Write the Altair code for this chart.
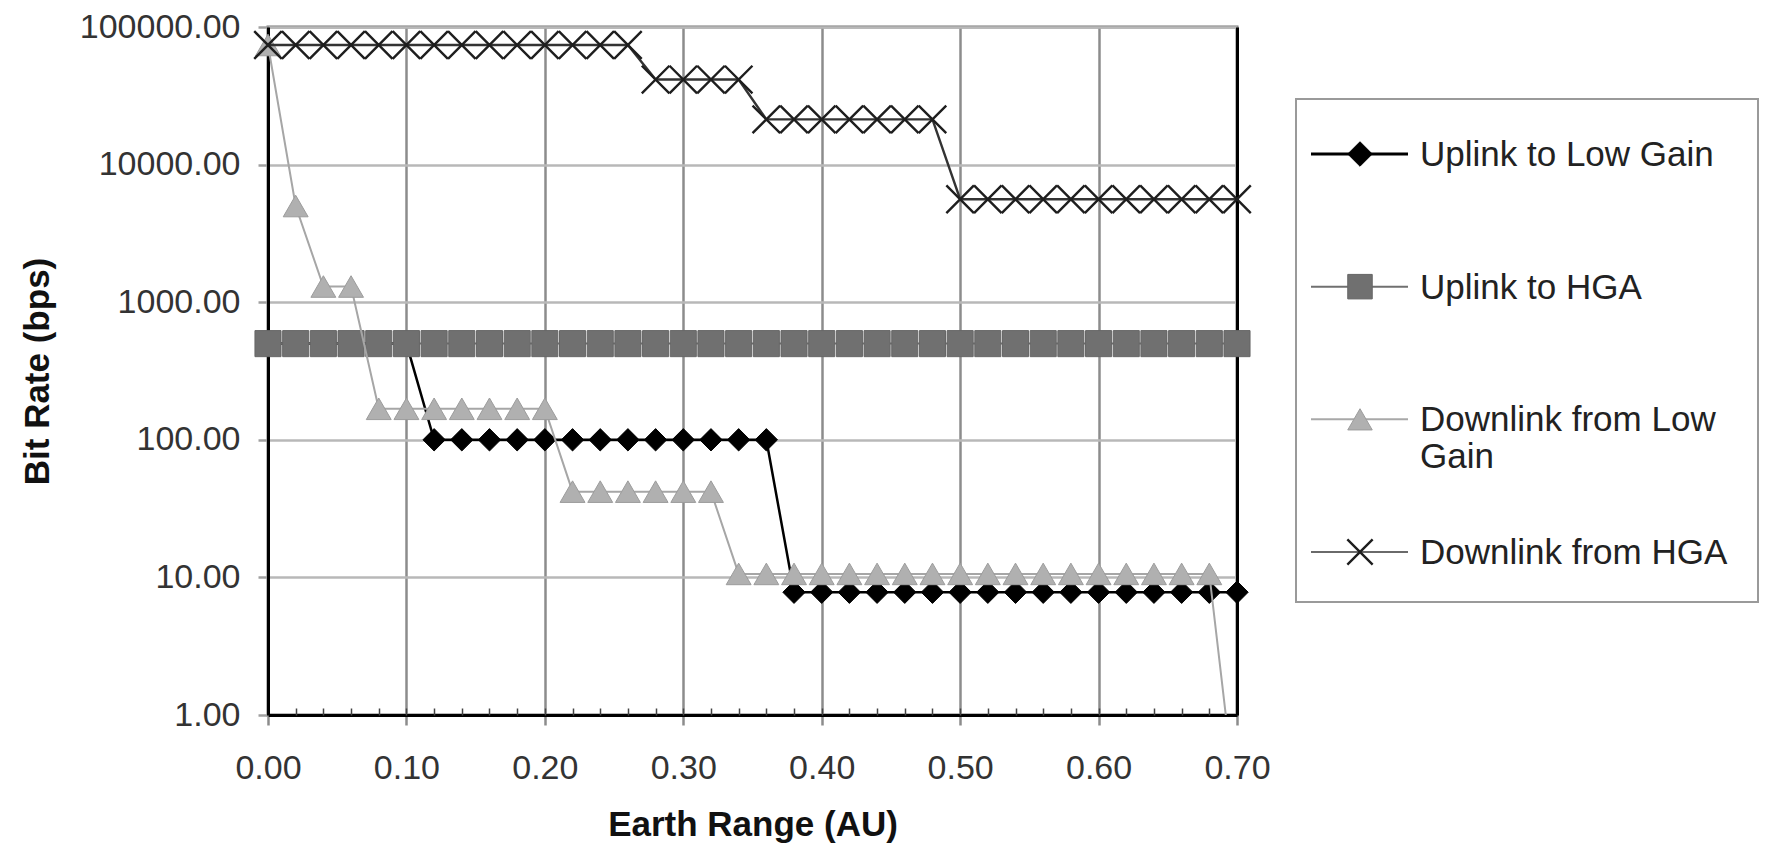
import altair as alt
import pandas as pd

# ---------------- data ----------------
x_range = [0.00, 0.02, 0.04, 0.06, 0.08, 0.10, 0.12, 0.14, 0.16, 0.18,
           0.20, 0.22, 0.24, 0.26, 0.28, 0.30, 0.32, 0.34, 0.36, 0.38,
           0.40, 0.42, 0.44, 0.46, 0.48, 0.50, 0.52, 0.54, 0.56, 0.58,
           0.60, 0.62, 0.64, 0.66, 0.68, 0.70]

uplink_low_gain = [500, 500, 500, 500, 500, 500,
                   100, 100, 100, 100, 100, 100, 100, 100, 100, 100, 100, 100, 100,
                   7.8, 7.8, 7.8, 7.8, 7.8, 7.8, 7.8, 7.8, 7.8, 7.8, 7.8, 7.8,
                   7.8, 7.8, 7.8, 7.8, 7.8]

uplink_hga = [500, 500, 500, 500, 500, 500, 500, 500, 500, 500, 500, 500,
              500, 500, 500, 500, 500, 500, 500, 500, 500, 500, 500, 500,
              500, 500, 500, 500, 500, 500, 500, 500, 500, 500, 500, 500]

downlink_low_gain = [74000, 5000, 1300, 1300,
                     168, 168, 168, 168, 168, 168, 168,
                     42, 42, 42, 42, 42, 42,
                     10.6, 10.6, 10.6, 10.6, 10.6, 10.6, 10.6, 10.6, 10.6,
                     10.6, 10.6, 10.6, 10.6, 10.6, 10.6, 10.6, 10.6, 10.6,
                     0.2]

downlink_hga = [74000, 74000, 74000, 74000, 74000, 74000, 74000,
                74000, 74000, 74000, 74000, 74000, 74000, 74000,
                41500, 41500, 41500, 41500,
                21300, 21300, 21300, 21300, 21300, 21300, 21300,
                5600, 5600, 5600, 5600, 5600, 5600, 5600, 5600, 5600, 5600, 5600]

series_names = ["Uplink to Low Gain", "Uplink to HGA",
                "Downlink from Low Gain", "Downlink from HGA"]
legend_labels = ["Uplink to Low Gain", "Uplink to HGA",
                 "Downlink from Low\nGain", "Downlink from HGA"]

x_tick_values = [0.0, 0.1, 0.2, 0.3, 0.4, 0.5, 0.6, 0.7]
y_tick_values = [1, 10, 100, 1000, 10000, 100000]

series_values = [uplink_low_gain, uplink_hga, downlink_low_gain, downlink_hga]
rows = []
for name, vals in zip(series_names, series_values):
    for xv, v in zip(x_range, vals):
        rows.append({"range": xv, "series": name, "rate": v})
df = pd.DataFrame(rows)

# ---------------- styles ----------------
FONT = "Liberation Sans"
W, H = 969, 688
LEG_W = 462
X_PATH = "M-1,-1L1,1M-1,1L1,-1"

STYLE = {
    "Uplink to Low Gain": dict(line="#000000", lw=2.5, shape="diamond", size=500,
                               filled=True, fill="#000000", stroke="#000000", sw=1,
                               leg_line="#000000", leg_lw=3),
    "Uplink to HGA": dict(line="#6e6e6e", lw=2, shape="square", size=680,
                          filled=True, fill="#707070", stroke="#666666", sw=1,
                          leg_line="#707070", leg_lw=2),
    "Downlink from Low Gain": dict(line="#a6a6a6", lw=2, shape="triangle-up", size=620,
                                   filled=True, fill="#b0b0b0", stroke="#9c9c9c", sw=1,
                                   leg_line="#a8a8a8", leg_lw=2),
    "Downlink from HGA": dict(line="#333333", lw=2.4, shape=X_PATH, size=760,
                              filled=False, fill="#000000", stroke="#1e1e1e", sw=2.4,
                              leg_line="#6a6a6a", leg_lw=2),
}

x_scale = alt.Scale(domain=[0, 0.7], nice=False, zero=False)
y_scale = alt.Scale(type="log", domain=[1, 100000], nice=False)

main_x_axis = alt.Axis(values=x_tick_values, format=".2f", title="Earth Range (AU)",
                       grid=True, gridColor="#8c8c8c", gridWidth=2.5,
                       domainColor="#000000", domainWidth=3,
                       ticks=True, tickColor="#8c8c8c", tickWidth=2.5, tickSize=10,
                       labelFont=FONT, labelFontSize=34, labelColor="#333333",
                       labelPadding=26, labelFlush=False, labelOverlap=False,
                       titleFont=FONT, titleFontSize=35, titleFontWeight="bold",
                       titleColor="#111111", titlePadding=22)
main_y_axis = alt.Axis(values=y_tick_values, format=".2f", title="Bit Rate (bps)",
                       grid=True, gridColor="#b8b8b8", gridWidth=2.5,
                       domainColor="#000000", domainWidth=3,
                       ticks=True, tickColor="#a0a0a0", tickWidth=2.5, tickSize=10,
                       labelFont=FONT, labelFontSize=34, labelColor="#333333",
                       labelPadding=18, labelFlush=False, labelOverlap=False,
                       titleFont=FONT, titleFontSize=35, titleFontWeight="bold",
                       titleColor="#111111", titlePadding=24)
minor_x_axis = alt.Axis(orient="top", offset=-H, values=x_range, title=None,
                        ticks=True, tickSize=7, tickColor="#444444", tickWidth=1.5,
                        labels=False, domain=False, grid=False)
right_y_axis = alt.Axis(orient="right", title=None, domain=True,
                        domainColor="#000000", domainWidth=3,
                        ticks=False, labels=False, grid=False)

layers = []
n = len(series_names)
for i, name in enumerate(series_names):
    st = STYLE[name]
    sub = alt.Chart(df).transform_filter(alt.datum.series == name)
    xa = main_x_axis if i == 0 else None
    ya = main_y_axis if i == 0 else None
    line = sub.mark_line(color=st["line"], strokeWidth=st["lw"], clip=True).encode(
        x=alt.X("range:Q", scale=x_scale, axis=xa),
        y=alt.Y("rate:Q", scale=y_scale, axis=ya),
    )
    xa2 = minor_x_axis if i == n - 1 else None
    ya2 = right_y_axis if i == n - 1 else None
    if st["filled"]:
        pm = sub.transform_filter(alt.datum.rate >= 1).mark_point(
            shape=st["shape"], size=st["size"], filled=True, fill=st["fill"],
            stroke=st["stroke"], strokeWidth=st["sw"], opacity=1)
    else:
        pm = sub.transform_filter(alt.datum.rate >= 1).mark_point(
            shape=st["shape"], size=st["size"], filled=False,
            stroke=st["stroke"], strokeWidth=st["sw"], opacity=1)
    pts = pm.encode(
        x=alt.X("range:Q", scale=x_scale, axis=xa2),
        y=alt.Y("rate:Q", scale=y_scale, axis=ya2),
    )
    layers += [line, pts]

main = alt.layer(*layers).properties(
    width=W, height=H,
    view=alt.ViewBackground(stroke="#777777", strokeWidth=3, fill="white"),
).resolve_axis(x="independent", y="independent")

# ---------------- legend panel ----------------
leg_df = pd.DataFrame({"series": series_names, "label": legend_labels})
leg_y = alt.Y("series:N",
              scale=alt.Scale(type="point", domain=series_names, range=[127, 525],
                              padding=0),
              axis=None)

leg_layers = [
    alt.Chart(leg_df).transform_filter(alt.datum.series == series_names[0]).mark_rect(
        fill="white", stroke="#9a9a9a", strokeWidth=2).encode(
        x=alt.value(0), x2=alt.value(LEG_W), y=alt.value(72), y2=alt.value(575))
]
for name in series_names:
    st = STYLE[name]
    s = alt.Chart(leg_df).transform_filter(alt.datum.series == name)
    leg_layers.append(s.mark_rule(color=st["leg_line"], strokeWidth=st["leg_lw"]).encode(
        x=alt.value(15), x2=alt.value(112), y=leg_y))
    if st["filled"]:
        lp = s.mark_point(shape=st["shape"], size=600, filled=True, fill=st["fill"],
                          stroke=st["stroke"], strokeWidth=1, opacity=1)
    else:
        lp = s.mark_point(shape=st["shape"], size=640, filled=False,
                          stroke=st["stroke"], strokeWidth=2.4, opacity=1)
    leg_layers.append(lp.encode(x=alt.value(64), y=leg_y))
leg_layers.append(alt.Chart(leg_df).mark_text(
    align="left", baseline="alphabetic", dy=12, font=FONT, fontSize=35,
    color="#222222", lineBreak="\n", lineHeight=37).encode(
    x=alt.value(124), y=leg_y, text="label:N"))

legend = alt.layer(*leg_layers).properties(
    width=LEG_W, height=H,
    view=alt.ViewBackground(stroke="transparent", fill="transparent"),
)

chart = alt.hconcat(main, legend, spacing=22).properties(
    padding={"left": 10, "top": 0, "right": 0, "bottom": 0},
    background="white",
)

chart.save("out.html", embed_options={"renderer": "svg", "actions": False})
